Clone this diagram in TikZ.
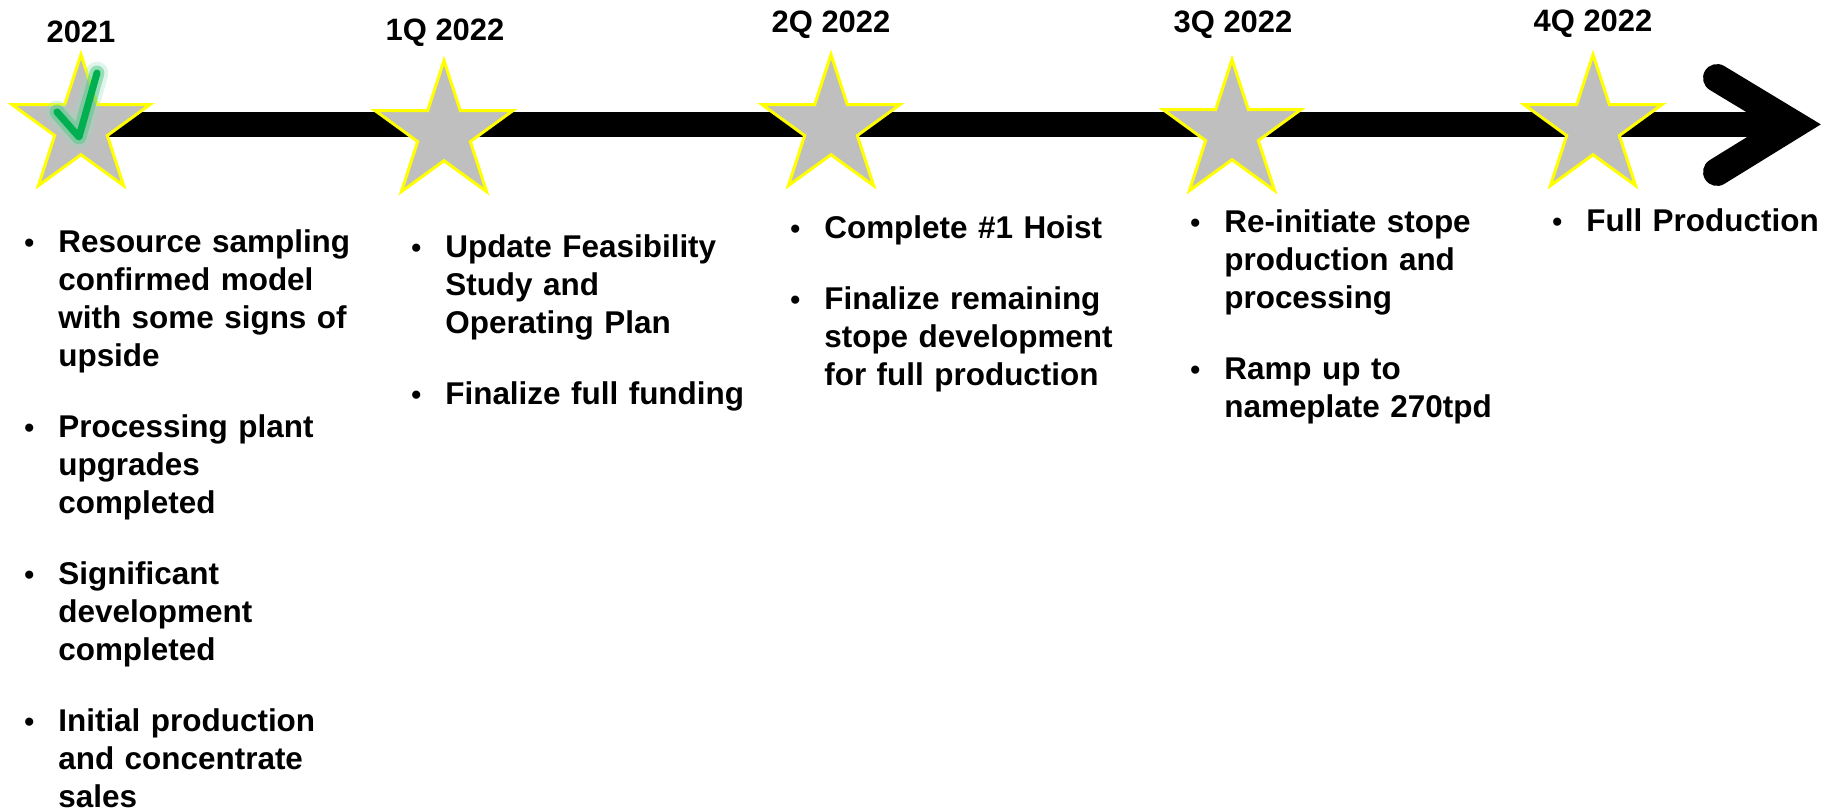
\documentclass[tikz,border=0pt]{standalone}
\usepackage{fontspec}
\setmainfont{Liberation Sans}
\usetikzlibrary{shapes.geometric, calc, backgrounds}

\definecolor{starfill}{HTML}{BFBFBF}
\definecolor{staredge}{HTML}{FFFF00}
\definecolor{tickgreen}{HTML}{00B050}

% bullet column and spacing between items
\newlength{\bulletbox}
\setlength{\bulletbox}{33pt}
\newlength{\itemgap}
\setlength{\itemgap}{18.8pt}
\newcommand{\milestone}[1]{\par\noindent\hangindent=\bulletbox\hangafter=1%
  \makebox[\bulletbox][c]{\scalebox{0.9}{\textbullet}}#1\par\vspace{\itemgap}}

\begin{document}
\begin{tikzpicture}[
    x=0.02cm, y=-0.02cm,
    milestar/.style={star, star points=5, star point ratio=2.618, draw=staredge, fill=starfill, line width=1.7pt, minimum size=2.9cm, inner sep=0pt},
    datelabel/.style={anchor=base, inner sep=0pt, font=\bfseries\fontsize{17.6pt}{20pt}\selectfont},
    itemlist/.style={anchor=base west, inner sep=0pt, text width=7.2cm, align=left, font=\bfseries\fontsize{17.9pt}{21.6pt}\selectfont},
    timeline/.style={line width=14.2pt, black},
    chevron/.style={line width=15.9pt, black, line cap=round, line join=miter},
    tick/.style={line cap=round, line join=round}
]
\useasboundingbox (0,0) rectangle (1833,811);

% ---------- stars ----------
\node (s2021) [milestar] at (81,127) {};
\node (s1q) [milestar] at (444,133) {};
\node (s2q) [milestar] at (831,127) {};
\node (s3q) [milestar] at (1232,132) {};
\node (s4q) [milestar] at (1593,127) {};

% ---------- dates ----------
\node (l2021) [datelabel] at (81,43) {2021};
\node (l1q) [datelabel] at (445,41) {1Q 2022};
\node (l2q) [datelabel] at (831,33) {2Q 2022};
\node (l3q) [datelabel] at (1233,33) {3Q 2022};
\node (l4q) [datelabel] at (1593,32) {4Q 2022};

% ---------- time axis ----------
\coordinate (tip) at (1794,124.5);
\coordinate (armup) at (1717,78);
\coordinate (armdown) at (1717,172);
\begin{scope}[on background layer]
\draw [timeline] (s2021.center |- tip) -- (tip);
\draw [chevron] (armup) -- (tip) -- (armdown);
\end{scope}

% done mark on the first star
\draw [tick, line width=13pt, tickgreen!40, opacity=0.3] ($(s2021.center)+(-24,-15)$) -- ($(s2021.center)+(-2,10)$) -- ($(s2021.center)+(16,-54)$);
\draw [tick, line width=8.5pt, tickgreen!70, opacity=0.5] ($(s2021.center)+(-24,-15)$) -- ($(s2021.center)+(-2,10)$) -- ($(s2021.center)+(16,-54)$);
\draw [tick, line width=4pt, tickgreen] ($(s2021.center)+(-24,-15)$) -- ($(s2021.center)+(-2,10)$) -- ($(s2021.center)+(16,-54)$);

% ---------- bullet lists ----------
% (node base sits one line above the first baseline)
\node (t2021) [itemlist] at (0,215) {
  \milestone{Resource sampling\newline confirmed model\newline with some signs of\newline upside}
  \milestone{Processing plant\newline upgrades\newline completed}
  \milestone{Significant\newline development\newline completed}
  \milestone{Initial production\newline and concentrate\newline sales}};
\node (t1q) [itemlist] at (387,220) {
  \milestone{Update Feasibility\newline Study and\newline Operating Plan}
  \milestone{Finalize full funding}};
\node (t2q) [itemlist] at (766,201) {
  \milestone{Complete \#1 Hoist}
  \milestone{Finalize remaining\newline stope development\newline for full production}};
\node (t3q) [itemlist] at (1166,195) {
  \milestone{Re-initiate stope\newline production and\newline processing}
  \milestone{Ramp up to\newline nameplate 270tpd}};
\node (t4q) [itemlist, text width=5.9cm] at (1528,194) {
  \milestone{Full Production}};

\end{tikzpicture}
\end{document}
